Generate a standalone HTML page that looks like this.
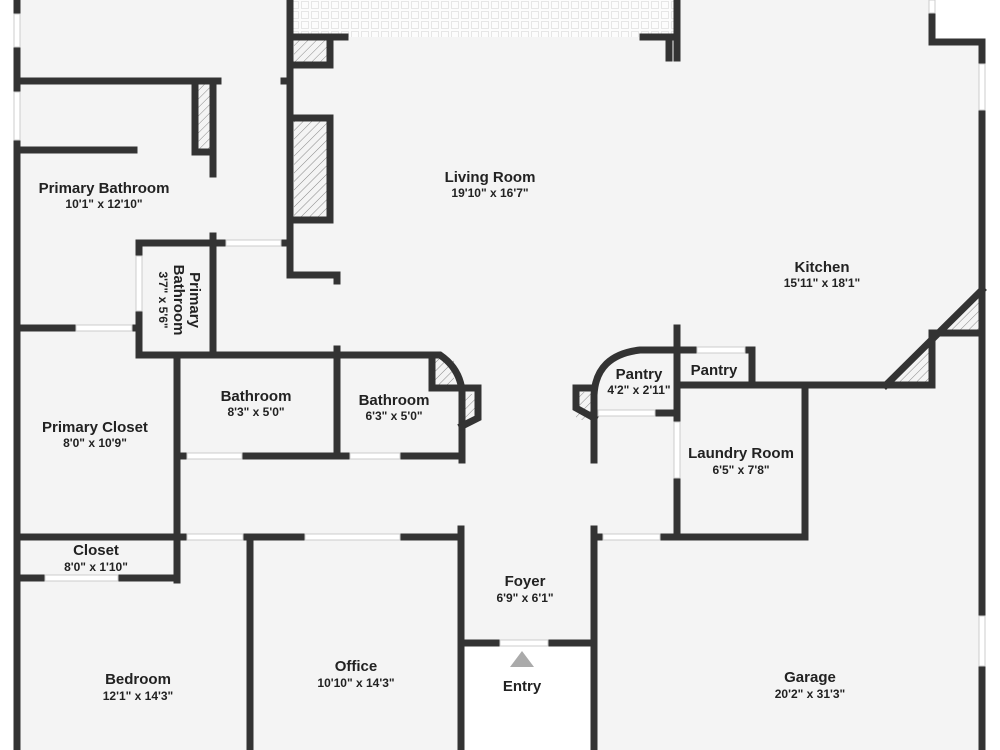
<!DOCTYPE html>
<html><head><meta charset="utf-8"><style>
html,body{margin:0;padding:0;background:#fff;}
svg{display:block;}
text{font-family:"Liberation Sans",sans-serif;font-weight:bold;fill:#222;text-anchor:middle;}
.n{font-size:15px;}
.d{font-size:12px;}
</style></head><body>
<svg width="1000" height="750" viewBox="0 0 1000 750" xmlns="http://www.w3.org/2000/svg">
<defs>
<pattern id="h" width="6" height="6" patternUnits="userSpaceOnUse" patternTransform="rotate(45)">
<rect width="6" height="6" fill="#f4f4f4"/><line x1="0" y1="0" x2="0" y2="6" stroke="#888" stroke-width="1"/></pattern>
<pattern id="t" width="10" height="10" patternUnits="userSpaceOnUse">
<rect width="10" height="10" fill="#fcfcfc"/><rect x="1.5" y="1.5" width="7" height="7" fill="none" stroke="#e6e6e6" stroke-width="1"/></pattern>
</defs>
<rect x="17" y="0" width="965" height="750" fill="#f4f4f4"/>
<rect x="935" y="0" width="65" height="42" fill="#fff"/>
<rect x="293" y="0" width="384" height="37" fill="url(#t)"/>
<rect x="464" y="646" width="127" height="104" fill="#fff"/>
<rect x="294" y="40" width="34" height="24" fill="url(#h)"/>
<rect x="197" y="84" width="14" height="66" fill="url(#h)"/>
<rect x="294" y="118" width="34" height="100" fill="url(#h)"/>
<rect x="432" y="358" width="22" height="30" fill="url(#h)"/>
<rect x="463" y="394" width="13" height="28" fill="url(#h)"/>
<rect x="576" y="392" width="15" height="28" fill="url(#h)"/>
<polygon points="888,382 932,340 932,382" fill="url(#h)"/>
<polygon points="945,330 980,295 980,330" fill="url(#h)"/>
<g stroke="#333" stroke-width="7" fill="none" stroke-linecap="square">
<line x1="17" y1="0" x2="17" y2="14"/><line x1="17" y1="47" x2="17" y2="92"/><line x1="17" y1="140" x2="17" y2="750"/>
<line x1="17" y1="81" x2="218" y2="81"/>
<polyline points="195,81 195,152 213,152"/>
<line x1="213" y1="81" x2="213" y2="174"/>
<line x1="17" y1="150" x2="134" y2="150"/>
<line x1="284" y1="81" x2="290" y2="81"/>
<line x1="290" y1="0" x2="290" y2="275"/>
<polyline points="290,275 337,275 337,281"/>
<polyline points="290,37 345,37"/>
<polyline points="290,65 330,65 330,37"/>
<line x1="643" y1="37" x2="677" y2="37"/>
<line x1="677" y1="2" x2="677" y2="58"/>
<line x1="669" y1="37" x2="669" y2="58"/>
<polyline points="290,118 330,118 330,220 290,220"/>
<line x1="139" y1="243" x2="226" y2="243"/>
<line x1="281" y1="243" x2="290" y2="243"/>
<line x1="213" y1="236" x2="213" y2="355"/>
<line x1="139" y1="243" x2="139" y2="256"/><line x1="139" y1="311" x2="139" y2="355"/>
<line x1="17" y1="328" x2="76" y2="328"/><line x1="132" y1="328" x2="139" y2="328"/>
<path d="M139,355 L440,355 Q459,368 462,390 L462,460"/>
<polyline points="432,355 432,388 462,388 478,388 478,418 462,426"/>
<line x1="177" y1="355" x2="177" y2="580"/>
<line x1="337" y1="349" x2="337" y2="456"/>
<line x1="177" y1="456" x2="187" y2="456"/><line x1="242" y1="456" x2="350" y2="456"/>
<line x1="400" y1="456" x2="462" y2="456"/>
<line x1="17" y1="537" x2="177" y2="537"/>
<line x1="177" y1="537" x2="187" y2="537"/>
<line x1="243" y1="537" x2="305" y2="537"/><line x1="400" y1="537" x2="461" y2="537"/>
<line x1="17" y1="578" x2="45" y2="578"/><line x1="118" y1="578" x2="177" y2="578"/>
<line x1="250" y1="537" x2="250" y2="750"/>
<line x1="461" y1="529" x2="461" y2="750"/>
<line x1="594" y1="529" x2="594" y2="750"/>
<line x1="461" y1="643" x2="500" y2="643"/><line x1="548" y1="643" x2="594" y2="643"/>
<line x1="594" y1="537" x2="603" y2="537"/><line x1="660" y1="537" x2="805" y2="537"/>
<path d="M594,460 L594,418 M594,418 L594,395 Q596,355 640,350 L677,350"/>
<polyline points="594,418 576,408 576,388 594,388"/>
<line x1="594" y1="413" x2="598" y2="413"/><line x1="655" y1="413" x2="677" y2="413"/>
<line x1="677" y1="328" x2="677" y2="422"/><line x1="677" y1="478" x2="677" y2="537"/>
<line x1="677" y1="350" x2="697" y2="350"/><line x1="745" y1="350" x2="752" y2="350"/>
<line x1="752" y1="350" x2="752" y2="385"/>
<line x1="677" y1="385" x2="932" y2="385"/>
<line x1="805" y1="385" x2="805" y2="537"/>
<line x1="886" y1="385" x2="982" y2="290"/>
<line x1="932" y1="333" x2="932" y2="385"/>
<line x1="932" y1="333" x2="982" y2="333"/>
<line x1="932" y1="13" x2="932" y2="42"/>
<line x1="932" y1="42" x2="982" y2="42"/>
<line x1="982" y1="42" x2="982" y2="64"/><line x1="982" y1="110" x2="982" y2="616"/><line x1="982" y1="666" x2="982" y2="750"/>
</g>
<g fill="#fff" stroke="#ccc" stroke-width="1">
<rect x="14" y="14" width="6" height="33"/><rect x="14" y="92" width="6" height="48"/>
<rect x="979" y="64" width="6" height="46"/><rect x="979" y="616" width="6" height="50"/>
<rect x="136" y="256" width="6" height="55"/>
<rect x="674" y="422" width="6" height="56"/>
<rect x="226" y="240" width="55" height="6"/>
<rect x="76" y="325" width="56" height="6"/>
<rect x="187" y="453" width="55" height="6"/><rect x="350" y="453" width="50" height="6"/>
<rect x="187" y="534" width="56" height="6"/><rect x="305" y="534" width="95" height="6"/>
<rect x="45" y="575" width="73" height="6"/>
<rect x="500" y="640" width="48" height="6"/>
<rect x="603" y="534" width="57" height="6"/>
<rect x="598" y="410" width="57" height="6"/>
<rect x="697" y="347" width="48" height="6"/>
<rect x="929" y="0" width="6" height="13"/>
</g>
<polygon points="522,651 534,667 510,667" fill="#aaa"/>
<text class="n" x="104" y="193">Primary Bathroom</text><text class="d" x="104" y="208">10'1" x 12'10"</text>
<text class="n" x="490" y="182">Living Room</text><text class="d" x="490" y="197">19'10" x 16'7"</text>
<text class="n" x="822" y="272">Kitchen</text><text class="d" x="822" y="287">15'11" x 18'1"</text>
<g transform="translate(176,300) rotate(90)"><text class="n" x="0" y="-14">Primary</text><text class="n" x="0" y="2">Bathroom</text><text class="d" x="0" y="17">3'7" x 5'6"</text></g>
<text class="n" x="256" y="401">Bathroom</text><text class="d" x="256" y="416">8'3" x 5'0"</text>
<text class="n" x="394" y="405">Bathroom</text><text class="d" x="394" y="420">6'3" x 5'0"</text>
<text class="n" x="639" y="379">Pantry</text><text class="d" x="639" y="394">4'2" x 2'11"</text>
<text class="n" x="714" y="375">Pantry</text>
<text class="n" x="741" y="458">Laundry Room</text><text class="d" x="741" y="474">6'5" x 7'8"</text>
<text class="n" x="95" y="432">Primary Closet</text><text class="d" x="95" y="447">8'0" x 10'9"</text>
<text class="n" x="96" y="555">Closet</text><text class="d" x="96" y="571">8'0" x 1'10"</text>
<text class="n" x="525" y="586">Foyer</text><text class="d" x="525" y="602">6'9" x 6'1"</text>
<text class="n" x="138" y="684">Bedroom</text><text class="d" x="138" y="700">12'1" x 14'3"</text>
<text class="n" x="356" y="671">Office</text><text class="d" x="356" y="687">10'10" x 14'3"</text>
<text class="n" x="522" y="691">Entry</text>
<text class="n" x="810" y="682">Garage</text><text class="d" x="810" y="698">20'2" x 31'3"</text>
</svg>
</body></html>
